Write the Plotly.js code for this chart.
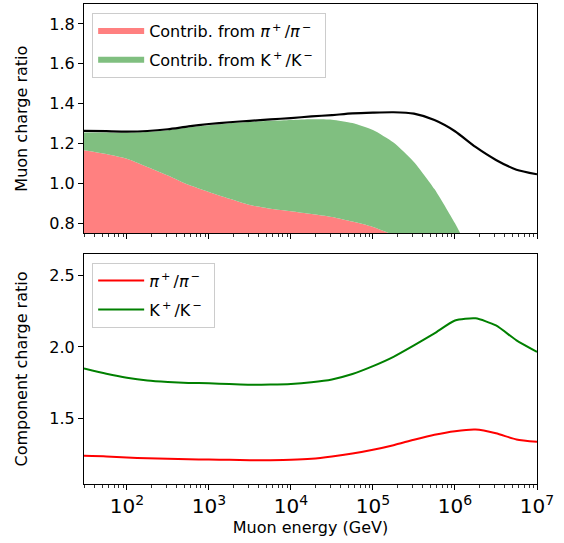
<!DOCTYPE html>
<html>
<head>
<meta charset="utf-8">
<script src="https://cdn.plot.ly/plotly-3.0.1.min.js"></script>
<style>
  body { margin: 0; background: #fff; }
  #figure { width: 564px; height: 543px; }
</style>
</head>
<body>
<div id="figure"></div>
<script>
FIGURE = document.getElementById('figure')

// muon energy grid (GeV), quarter-decade steps
const energy = [30, 56.2, 100, 178, 316, 562, 1e3, 1.78e3, 3.16e3, 5.62e3,
                1e4, 1.78e4, 3.16e4, 5.62e4, 1e5, 1.78e5, 3.16e5, 5.62e5,
                1e6, 1.78e6, 3.16e6, 5.62e6, 1e7]

// top panel: total muon charge ratio and stacked contributions
const totalRatio = [1.264, 1.262, 1.260, 1.263, 1.272, 1.286, 1.298, 1.307, 1.314, 1.321,
                    1.328, 1.336, 1.343, 1.351, 1.355, 1.357, 1.350, 1.318,
                    1.262, 1.183, 1.118, 1.069, 1.046]
const pionContrib = [1.167, 1.148, 1.124, 1.083, 1.040, 0.993, 0.957, 0.923, 0.892, 0.873,
                     0.861, 0.847, 0.832, 0.809, 0.782, 0.742, 0.69, 0.63,
                     0.56, 0.48, 0.40, 0.32, 0.25]
const kaonContrib = [1.256, 1.256, 1.254, 1.258, 1.267, 1.281, 1.292, 1.302, 1.308, 1.314,
                     1.318, 1.322, 1.320, 1.303, 1.268, 1.205, 1.108, 0.972,
                     0.80, 0.60, 0.40, 0.20, 0.05]

// bottom panel: component charge ratios
const pionRatio = [1.237, 1.233, 1.225, 1.220, 1.216, 1.213, 1.211, 1.209, 1.207, 1.207,
                   1.209, 1.216, 1.232, 1.253, 1.280, 1.312, 1.350, 1.385,
                   1.410, 1.421, 1.395, 1.352, 1.335]
const kaonRatio = [1.849, 1.812, 1.784, 1.765, 1.755, 1.748, 1.745, 1.740, 1.735, 1.736,
                   1.740, 1.752, 1.772, 1.810, 1.865, 1.930, 2.010, 2.095,
                   2.185, 2.200, 2.150, 2.046, 1.965]

const FONT = 'DejaVu Sans, sans-serif'
const FS = 16
const PI = '<i>π</i><sup>\u2009+</sup>\u2009/<i>π</i><sup>\u2009−</sup>'
const KA = 'K<sup>\u2009+</sup>\u2009/K<sup>\u2009−</sup>'

let traces = [
    {
        x: energy, y: pionContrib, type: 'scatter', mode: 'none',
        fill: 'tozeroy', fillcolor: '#ff8080',
        line: {shape: 'spline', smoothing: 0.6},
        name: 'Contrib. from ' + PI + '\u2002',
        xaxis: 'x', yaxis: 'y', legend: 'legend', legendgroup: 'a'
    },
    {
        x: energy, y: kaonContrib, type: 'scatter', mode: 'none',
        fill: 'tonexty', fillcolor: '#80bf80',
        line: {shape: 'spline', smoothing: 0.6},
        name: 'Contrib. from ' + KA,
        xaxis: 'x', yaxis: 'y', legend: 'legend', legendgroup: 'b'
    },
    {
        x: energy, y: totalRatio, type: 'scatter', mode: 'lines',
        line: {color: '#000', width: 2.2, shape: 'spline', smoothing: 0.6},
        showlegend: false, xaxis: 'x', yaxis: 'y'
    },
    {
        x: energy, y: pionRatio, type: 'scatter', mode: 'lines',
        line: {color: '#ff0000', width: 2, shape: 'spline', smoothing: 0.6},
        name: PI + '\u2002',
        xaxis: 'x2', yaxis: 'y2', legend: 'legend2', legendgroup: 'c'
    },
    {
        x: energy, y: kaonRatio, type: 'scatter', mode: 'lines',
        line: {color: '#008000', width: 2, shape: 'spline', smoothing: 0.6},
        name: KA,
        xaxis: 'x2', yaxis: 'y2', legend: 'legend2', legendgroup: 'd'
    }
]

function xAxis(anchor, labels) {
    return {
        type: 'log', range: [Math.log10(30), 7], anchor: anchor,
        dtick: 1, exponentformat: 'power', showticklabels: labels,
        ticks: 'outside', ticklen: 5, tickcolor: '#000', tickwidth: 1,
        minor: {ticks: 'outside', ticklen: 2.5, tickcolor: '#000', tickwidth: 0.8, showgrid: false},
        showline: true, linecolor: '#000', linewidth: 1, mirror: true,
        showgrid: false, zeroline: false,
        tickfont: {family: FONT, size: FS, color: '#000'}
    }
}

function yAxis(anchor, domain, range, dtick, title) {
    return {
        anchor: anchor, domain: domain, range: range, dtick: dtick, tickformat: '.1f',
        ticks: 'outside', ticklen: 5, tickcolor: '#000', tickwidth: 1,
        showline: true, linecolor: '#000', linewidth: 1, mirror: true,
        showgrid: false, zeroline: false,
        tickfont: {family: FONT, size: FS, color: '#000'},
        title: {text: title, font: {family: FONT, size: FS, color: '#000'}, standoff: 17}
    }
}

let legendStyle = {
    xanchor: 'left', yanchor: 'top', x: 0.018,
    bgcolor: 'rgba(255,255,255,0.8)', bordercolor: '#cccccc', borderwidth: 1,
    font: {family: FONT, size: FS, color: '#000'},
    traceorder: 'grouped', tracegroupgap: 5, itemwidth: 46
}

let layout = {
    width: 564, height: 543,
    margin: {l: 84, r: 27, t: 4, b: 59},
    paper_bgcolor: '#fff', plot_bgcolor: '#fff',
    font: {family: FONT, size: FS, color: '#000'},
    xaxis: xAxis('y', false),
    yaxis: yAxis('x', [0.5223, 1], [0.75, 1.9], 0.2, 'Muon charge ratio'),
    xaxis2: Object.assign(xAxis('y2', true),
        {title: {text: 'Muon energy (GeV)', font: {family: FONT, size: FS, color: '#000'}, standoff: 4}}),
    yaxis2: yAxis('x2', [0, 0.479], [1.04, 2.65], 0.5, 'Component charge ratio'),
    legend: Object.assign({}, legendStyle, {y: 0.981}),
    legend2: Object.assign({}, legendStyle, {y: 0.461}),
    showlegend: true
}

Plotly.newPlot(FIGURE, traces, layout, {staticPlot: true});
</script>
</body>
</html>
